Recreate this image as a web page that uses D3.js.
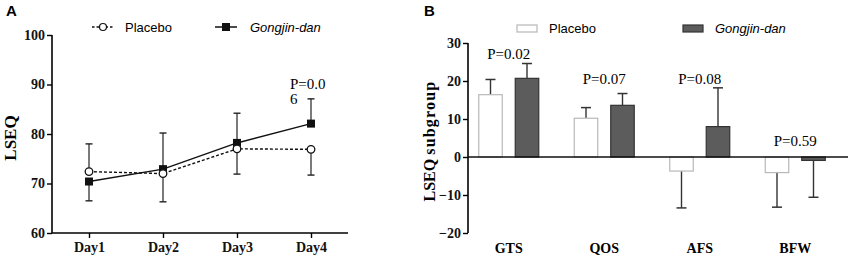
<!DOCTYPE html>
<html>
<head>
<meta charset="utf-8">
<script src="https://cdn.jsdelivr.net/npm/d3@7"></script>
<style>
  body { margin: 0; background: #fff; }
  svg { display: block; }
</style>
</head>
<body>
<svg id="chart" width="851" height="260"></svg>
<script>
// ---- Panel A data: LSEQ by day ----
const days = ["Day1", "Day2", "Day3", "Day4"];
const placeboMean = [72.4, 72.0, 77.0, 76.9];
const placeboSD = [5.6, 5.7, 5.1, 5.2];
const gongjinMean = [70.4, 72.9, 78.2, 82.1];
const gongjinSD = [3.9, 7.3, 6.0, 5.0];
const lineTicks = [60, 70, 80, 90, 100];

// ---- Panel B data: LSEQ subgroups ----
const subgroups = ["GTS", "QOS", "AFS", "BFW"];
const placeboSub = [16.4, 10.2, -3.7, -4.1];
const placeboSubSD = [4.0, 2.8, 9.7, 9.1];
const gongjinSub = [20.7, 13.6, 8.0, -0.9];
const gongjinSubSD = [3.9, 3.1, 10.2, 9.7];
const barTicks = [-20, -10, 0, 10, 20, 30];
const pLabels = ["P=0.02", "P=0.07", "P=0.08", "P=0.59"];
const pLevels = [25.8, 19.2, 19.2, 2.9]; // where each p label sits, in LSEQ units

const svg = d3.select("#chart");
const serif = "'Liberation Serif', 'Times New Roman', serif";
const sans = "'Liberation Sans', Arial, sans-serif";

// ================= Panel A =================
const a = svg.append("g");
const xA = d3.scalePoint().domain(days).range([52, 348]).padding(0.5);
const yA = d3.scaleLinear().domain([60, 100]).range([233, 35]);

a.append("g")
  .attr("transform", "translate(52,0)")
  .call(d3.axisLeft(yA).tickValues(lineTicks).tickSize(5).tickPadding(2))
  .call(g => g.select(".domain").attr("stroke-width", 1.6).attr("d", "M0,233V35"))
  .call(g => g.selectAll(".tick line").attr("stroke-width", 1.4))
  .call(g => g.selectAll("text").style("font", `bold 14px ${serif}`).attr("fill", "#111"));

a.append("g")
  .attr("transform", "translate(0,233)")
  .call(d3.axisBottom(xA).tickSize(5).tickPadding(4))
  .call(g => g.select(".domain").attr("stroke-width", 1.6).attr("d", "M52,0H348"))
  .call(g => g.selectAll(".tick line").attr("stroke-width", 1.4))
  .call(g => g.selectAll("text").style("font", `bold 14px ${serif}`).attr("fill", "#111"));

a.append("text")
  .attr("transform", "translate(16,138) rotate(-90)")
  .attr("text-anchor", "middle")
  .style("font", `bold 17px ${serif}`)
  .text("LSEQ");

a.append("text").attr("x", 6).attr("y", 16)
  .style("font", `bold 15px ${sans}`).text("A");

// error bars (higher mean goes up, lower goes down)
function errBars(means, sds, other) {
  means.forEach((m, i) => {
    const up = m >= other[i];
    const end = up ? m + sds[i] : m - sds[i];
    const x = xA(days[i]);
    a.append("line").attr("x1", x).attr("x2", x)
      .attr("y1", yA(m)).attr("y2", yA(end))
      .attr("stroke", "#222").attr("stroke-width", 1.2);
    a.append("line").attr("x1", x - 3.5).attr("x2", x + 3.5)
      .attr("y1", yA(end)).attr("y2", yA(end))
      .attr("stroke", "#222").attr("stroke-width", 1.4);
  });
}
errBars(placeboMean, placeboSD, gongjinMean);
errBars(gongjinMean, gongjinSD, placeboMean);

const lineA = d3.line().x((d, i) => xA(days[i])).y(d => yA(d));
a.append("path").datum(placeboMean).attr("d", lineA)
  .attr("fill", "none").attr("stroke", "#111").attr("stroke-width", 1.4)
  .attr("stroke-dasharray", "3,2");
a.append("path").datum(gongjinMean).attr("d", lineA)
  .attr("fill", "none").attr("stroke", "#111").attr("stroke-width", 1.5);

a.selectAll(".sq").data(gongjinMean).enter().append("rect")
  .attr("x", (d, i) => xA(days[i]) - 4).attr("y", d => yA(d) - 4)
  .attr("width", 8).attr("height", 8).attr("fill", "#111");
a.selectAll(".ci").data(placeboMean).enter().append("circle")
  .attr("cx", (d, i) => xA(days[i])).attr("cy", d => yA(d)).attr("r", 3.8)
  .attr("fill", "#fff").attr("stroke", "#111").attr("stroke-width", 1.3);

// p-value, wrapped like the original
a.append("text").attr("x", 290).attr("y", 89)
  .style("font", `15px ${serif}`).text("P=0.0");
a.append("text").attr("x", 290).attr("y", 104)
  .style("font", `15px ${serif}`).text("6");

// legend A
const legA = a.append("g");
legA.append("line").attr("x1", 92).attr("x2", 114).attr("y1", 27).attr("y2", 27)
  .attr("stroke", "#111").attr("stroke-width", 1.3).attr("stroke-dasharray", "2.5,2");
legA.append("circle").attr("cx", 103).attr("cy", 27).attr("r", 3.5)
  .attr("fill", "#fff").attr("stroke", "#111").attr("stroke-width", 1.2);
legA.append("text").attr("x", 125).attr("y", 32)
  .style("font", `13px ${sans}`).text("Placebo");
legA.append("line").attr("x1", 215).attr("x2", 237).attr("y1", 27).attr("y2", 27)
  .attr("stroke", "#111").attr("stroke-width", 1.5);
legA.append("rect").attr("x", 222).attr("y", 23).attr("width", 8).attr("height", 8).attr("fill", "#111");
legA.append("text").attr("x", 250).attr("y", 32)
  .style("font", `italic 13px ${sans}`).text("Gongjin-dan");

// ================= Panel B =================
const b = svg.append("g");
const xB = d3.scaleBand().domain(subgroups).range([461, 843]);
const inner = d3.scaleBand().domain(["Placebo", "Gongjin-dan"])
  .range([-30, 30]).paddingInner(0.356);
const yB = d3.scaleLinear().domain([-20, 30]).range([233, 43]);

b.append("g")
  .attr("transform", "translate(468,0)")
  .call(d3.axisLeft(yB).tickValues(barTicks).tickSize(5).tickPadding(2))
  .call(g => g.select(".domain").attr("stroke-width", 1.6).attr("d", "M0,233V43"))
  .call(g => g.selectAll(".tick line").attr("stroke-width", 1.4))
  .call(g => g.selectAll("text").style("font", `bold 14px ${serif}`).attr("fill", "#111"));

const series = [
  { key: "Placebo", vals: placeboSub, sds: placeboSubSD, fill: "#fff", stroke: "#b8b8b8" },
  { key: "Gongjin-dan", vals: gongjinSub, sds: gongjinSubSD, fill: "#5c5c5c", stroke: "#333" }
];

series.forEach(s => {
  s.vals.forEach((v, i) => {
    const x = xB(subgroups[i]) + xB.bandwidth() / 2 + inner(s.key);
    const w = inner.bandwidth();
    const end = v >= 0 ? v + s.sds[i] : v - s.sds[i];
    const cx = x + w / 2;
    b.append("line").attr("x1", cx).attr("x2", cx)
      .attr("y1", yB(v)).attr("y2", yB(end))
      .attr("stroke", "#333").attr("stroke-width", 1.4);
    b.append("line").attr("x1", cx - 5).attr("x2", cx + 5)
      .attr("y1", yB(end)).attr("y2", yB(end))
      .attr("stroke", "#333").attr("stroke-width", 1.5);
    b.append("rect")
      .attr("x", x).attr("width", w)
      .attr("y", yB(Math.max(0, v))).attr("height", Math.abs(yB(v) - yB(0)))
      .attr("fill", s.fill).attr("stroke", s.stroke).attr("stroke-width", 1.2);
  });
});

// zero line
b.append("line").attr("x1", 468).attr("x2", 848)
  .attr("y1", yB(0)).attr("y2", yB(0)).attr("stroke", "#111").attr("stroke-width", 1.6);

// category labels
b.selectAll(".cat").data(subgroups).enter().append("text")
  .attr("x", d => xB(d) + xB.bandwidth() / 2).attr("y", 253)
  .attr("text-anchor", "middle")
  .style("font", `bold 14px ${serif}`).text(d => d);

// p-values above each group
b.selectAll(".pv").data(pLabels).enter().append("text")
  .attr("x", (d, i) => xB(subgroups[i]) + xB.bandwidth() / 2)
  .attr("y", (d, i) => yB(pLevels[i]))
  .attr("text-anchor", "middle")
  .style("font", `15px ${serif}`).text(d => d);

const ylab = b.append("text")
  .attr("transform", "translate(435,141) rotate(-90)")
  .attr("text-anchor", "middle")
  .style("font", `bold 16px ${serif}`);
ylab.append("tspan").text("LSEQ ");
ylab.append("tspan").style("letter-spacing", "1.2px").text("subgroup");

b.append("text").attr("x", 424).attr("y", 16)
  .style("font", `bold 15px ${sans}`).text("B");

// legend B
b.append("rect").attr("x", 517).attr("y", 25).attr("width", 20).attr("height", 7)
  .attr("fill", "#fff").attr("stroke", "#b8b8b8").attr("stroke-width", 1.2);
b.append("text").attr("x", 549).attr("y", 33)
  .style("font", `13px ${sans}`).text("Placebo");
b.append("rect").attr("x", 683).attr("y", 25).attr("width", 20).attr("height", 7)
  .attr("fill", "#5c5c5c").attr("stroke", "#333").attr("stroke-width", 1.2);
b.append("text").attr("x", 715).attr("y", 33)
  .style("font", `italic 13px ${sans}`).text("Gongjin-dan");
</script>
</body>
</html>
